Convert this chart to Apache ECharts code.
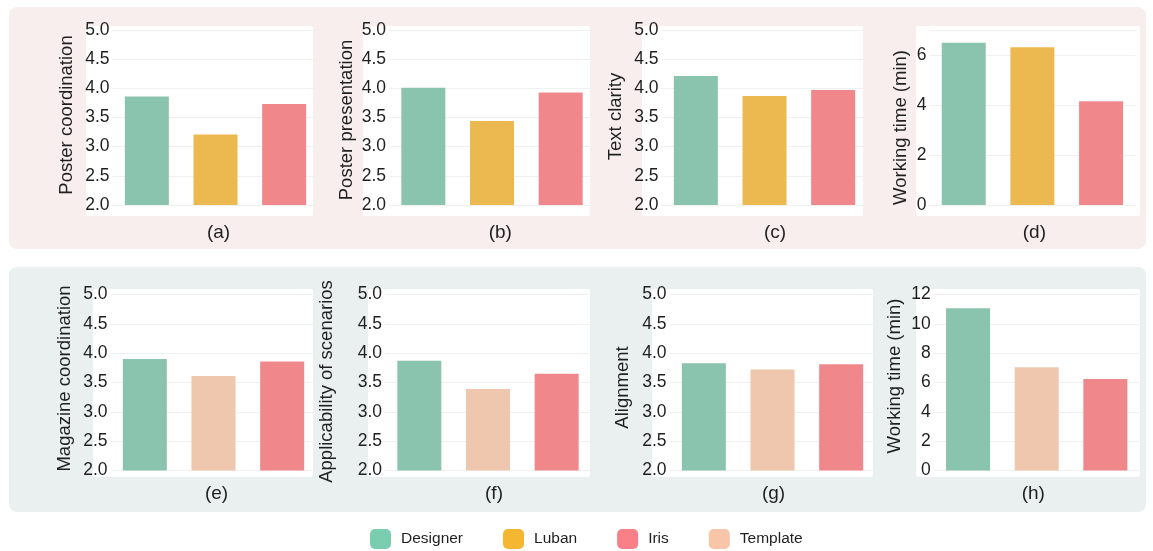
<!DOCTYPE html>
<html>
<head>
<meta charset="utf-8">
<script src="https://cdn.jsdelivr.net/npm/echarts@6/dist/echarts.min.js"></script>
<style>
  html, body { margin: 0; padding: 0; background: #ffffff; }
  #chart { width: 1153px; height: 551px; }
</style>
</head>
<body>
<div id="chart"></div>
<script>
// ---- data ----
const panelTags = ['(a)', '(b)', '(c)', '(d)', '(e)', '(f)', '(g)', '(h)'];
const yTitles = [
  'Poster coordination', 'Poster presentation', 'Text clarity', 'Working time (min)',
  'Magazine coordination', 'Applicability of scenarios', 'Alignment', 'Working time (min)'
];
const topMethods = ['Designer', 'Luban', 'Iris'];
const bottomMethods = ['Designer', 'Template', 'Iris'];

// scores (a,b,c,e,f,g) and working time in minutes (d,h)
const designerVals = [3.86, 4.01, 4.21, 6.49, 3.90, 3.87, 3.83, 11.06];
const lubanVals    = [3.21, 3.44, 3.87, 6.31];             // top row only
const irisVals     = [3.73, 3.93, 3.97, 4.15, 3.86, 3.65, 3.81, 6.24];
const templateVals = [3.61, 3.39, 3.72, 7.04];             // bottom row only

// value-axis ranges
const scoreAxis = { min: 2, max: 5, interval: 0.5 };
const timeAxisTop = { min: 0, max: 7, interval: 2 };
const timeAxisBottom = { min: 0, max: 12, interval: 2 };

// ---- styling / layout ----
const barColors = { Designer: '#8ac3ae', Luban: '#ecb850', Iris: '#f0878b', Template: '#eec7ae' };
const legendColors = { Designer: '#7bcdb0', Luban: '#f5b731', Iris: '#f97f88', Template: '#f8c5a9' };
const textColor = '#1f1f1f';
const fontFamily = 'Liberation Sans, Arial, sans-serif';

const gridLeft = [112.5, 389, 661.5, 929.4, 110.5, 385, 669.5, 933.7];
const gridWidth = 206;
const rowTop = [30, 294.5];
const rowHeight = [175, 176];
const yNameGap = [36.5, 33, 36.5, 18.5, 36, 49, 37, 29.5];
const yNameShift = [2.5, -2.5, 1, -10, 4, 1, -5, 6.5];      // + moves title up
const xNameShift = [3, 8.3, 10.5, 2, 3, 6, 1, -3.4];        // + moves tag right
const xNameGap = [18, 13.3];

// white plotting panels
const whitePanels = [
  [86, 26, 313, 216], [363, 26, 590, 216], [642, 26, 863, 216], [916, 26, 1140, 216],
  [93, 289, 313, 477], [368, 289, 590, 477], [652, 289, 873, 477], [916, 289, 1140, 477]
];

function valueOf(method, p) {
  if (method === 'Designer') return designerVals[p];
  if (method === 'Iris') return irisVals[p];
  if (method === 'Luban') return lubanVals[p];
  return templateVals[p - 4];
}

function padFor(shift) {
  // shifts a centred text along its baseline through asymmetric padding
  return shift >= 0 ? [0, 0, 0, 2 * shift] : [0, -2 * shift, 0, 0];
}

const grids = [], xAxes = [], yAxes = [], series = [];

for (let p = 0; p < 8; p++) {
  const row = p < 4 ? 0 : 1;
  const cats = row === 0 ? topMethods : bottomMethods;
  const isTime = (p === 3 || p === 7);
  const range = isTime ? (p === 3 ? timeAxisTop : timeAxisBottom) : scoreAxis;

  grids.push({ left: gridLeft[p], top: rowTop[row], width: gridWidth, height: rowHeight[row], containLabel: false });

  xAxes.push({
    gridIndex: p,
    type: 'category',
    data: cats,
    axisLine: { show: false },
    axisTick: { show: false },
    axisLabel: { show: false },
    splitLine: { show: false },
    name: panelTags[p],
    nameLocation: 'middle',
    nameGap: xNameGap[row],
    nameTextStyle: { fontSize: 19, color: textColor, fontFamily: fontFamily, padding: padFor(xNameShift[p]) }
  });

  yAxes.push({
    gridIndex: p,
    type: 'value',
    min: range.min,
    max: range.max,
    interval: range.interval,
    axisLine: { show: false },
    axisTick: { show: false },
    axisLabel: {
      fontSize: 17.5,
      color: textColor,
      fontFamily: fontFamily,
      margin: 3,
      showMaxLabel: p === 3 ? false : true,
      formatter: v => isTime ? String(v) : v.toFixed(1)
    },
    splitLine: { show: true, lineStyle: { color: '#f0f0f0', width: 1 } },
    name: yTitles[p],
    nameLocation: 'middle',
    nameGap: yNameGap[p],
    nameTextStyle: { fontSize: 18.5, color: textColor, fontFamily: fontFamily, padding: padFor(yNameShift[p]) }
  });

  cats.forEach(method => {
    series.push({
      type: 'bar',
      name: method,
      xAxisIndex: p,
      yAxisIndex: p,
      barWidth: 44,
      barGap: '-100%',
      itemStyle: { color: barColors[method] },
      emphasis: { disabled: true },
      data: cats.map(c => (c === method ? valueOf(method, p) : null))
    });
  });
}

// row backgrounds, then the white panel behind each plot
const graphics = [
  { type: 'rect', z: -20, shape: { x: 9, y: 7, width: 1137, height: 242, r: 8 }, style: { fill: '#f8eeee' } },
  { type: 'rect', z: -20, shape: { x: 9, y: 267, width: 1137, height: 245, r: 8 }, style: { fill: '#eaf0ef' } }
].concat(whitePanels.map(b => ({
  type: 'rect', z: -10,
  shape: { x: b[0], y: b[1], width: b[2] - b[0], height: b[3] - b[1], r: 2 },
  style: { fill: '#ffffff' }
})));

const chart = echarts.init(document.getElementById('chart'), null, { renderer: 'canvas' });
chart.setOption({
  animation: false,
  backgroundColor: '#ffffff',
  textStyle: { fontFamily: fontFamily },
  graphic: graphics,
  grid: grids,
  xAxis: xAxes,
  yAxis: yAxes,
  legend: {
    left: 370,
    top: 529,
    padding: 0,
    itemWidth: 21,
    itemHeight: 20,
    itemGap: 40,
    icon: 'roundRect',
    selectedMode: false,
    textStyle: { fontSize: 15.5, color: textColor, fontFamily: fontFamily, padding: [0, 0, 0, 5] },
    data: ['Designer', 'Luban', 'Iris', 'Template'].map(n => ({ name: n, itemStyle: { color: legendColors[n] } }))
  },
  series: series
});
</script>
</body>
</html>
